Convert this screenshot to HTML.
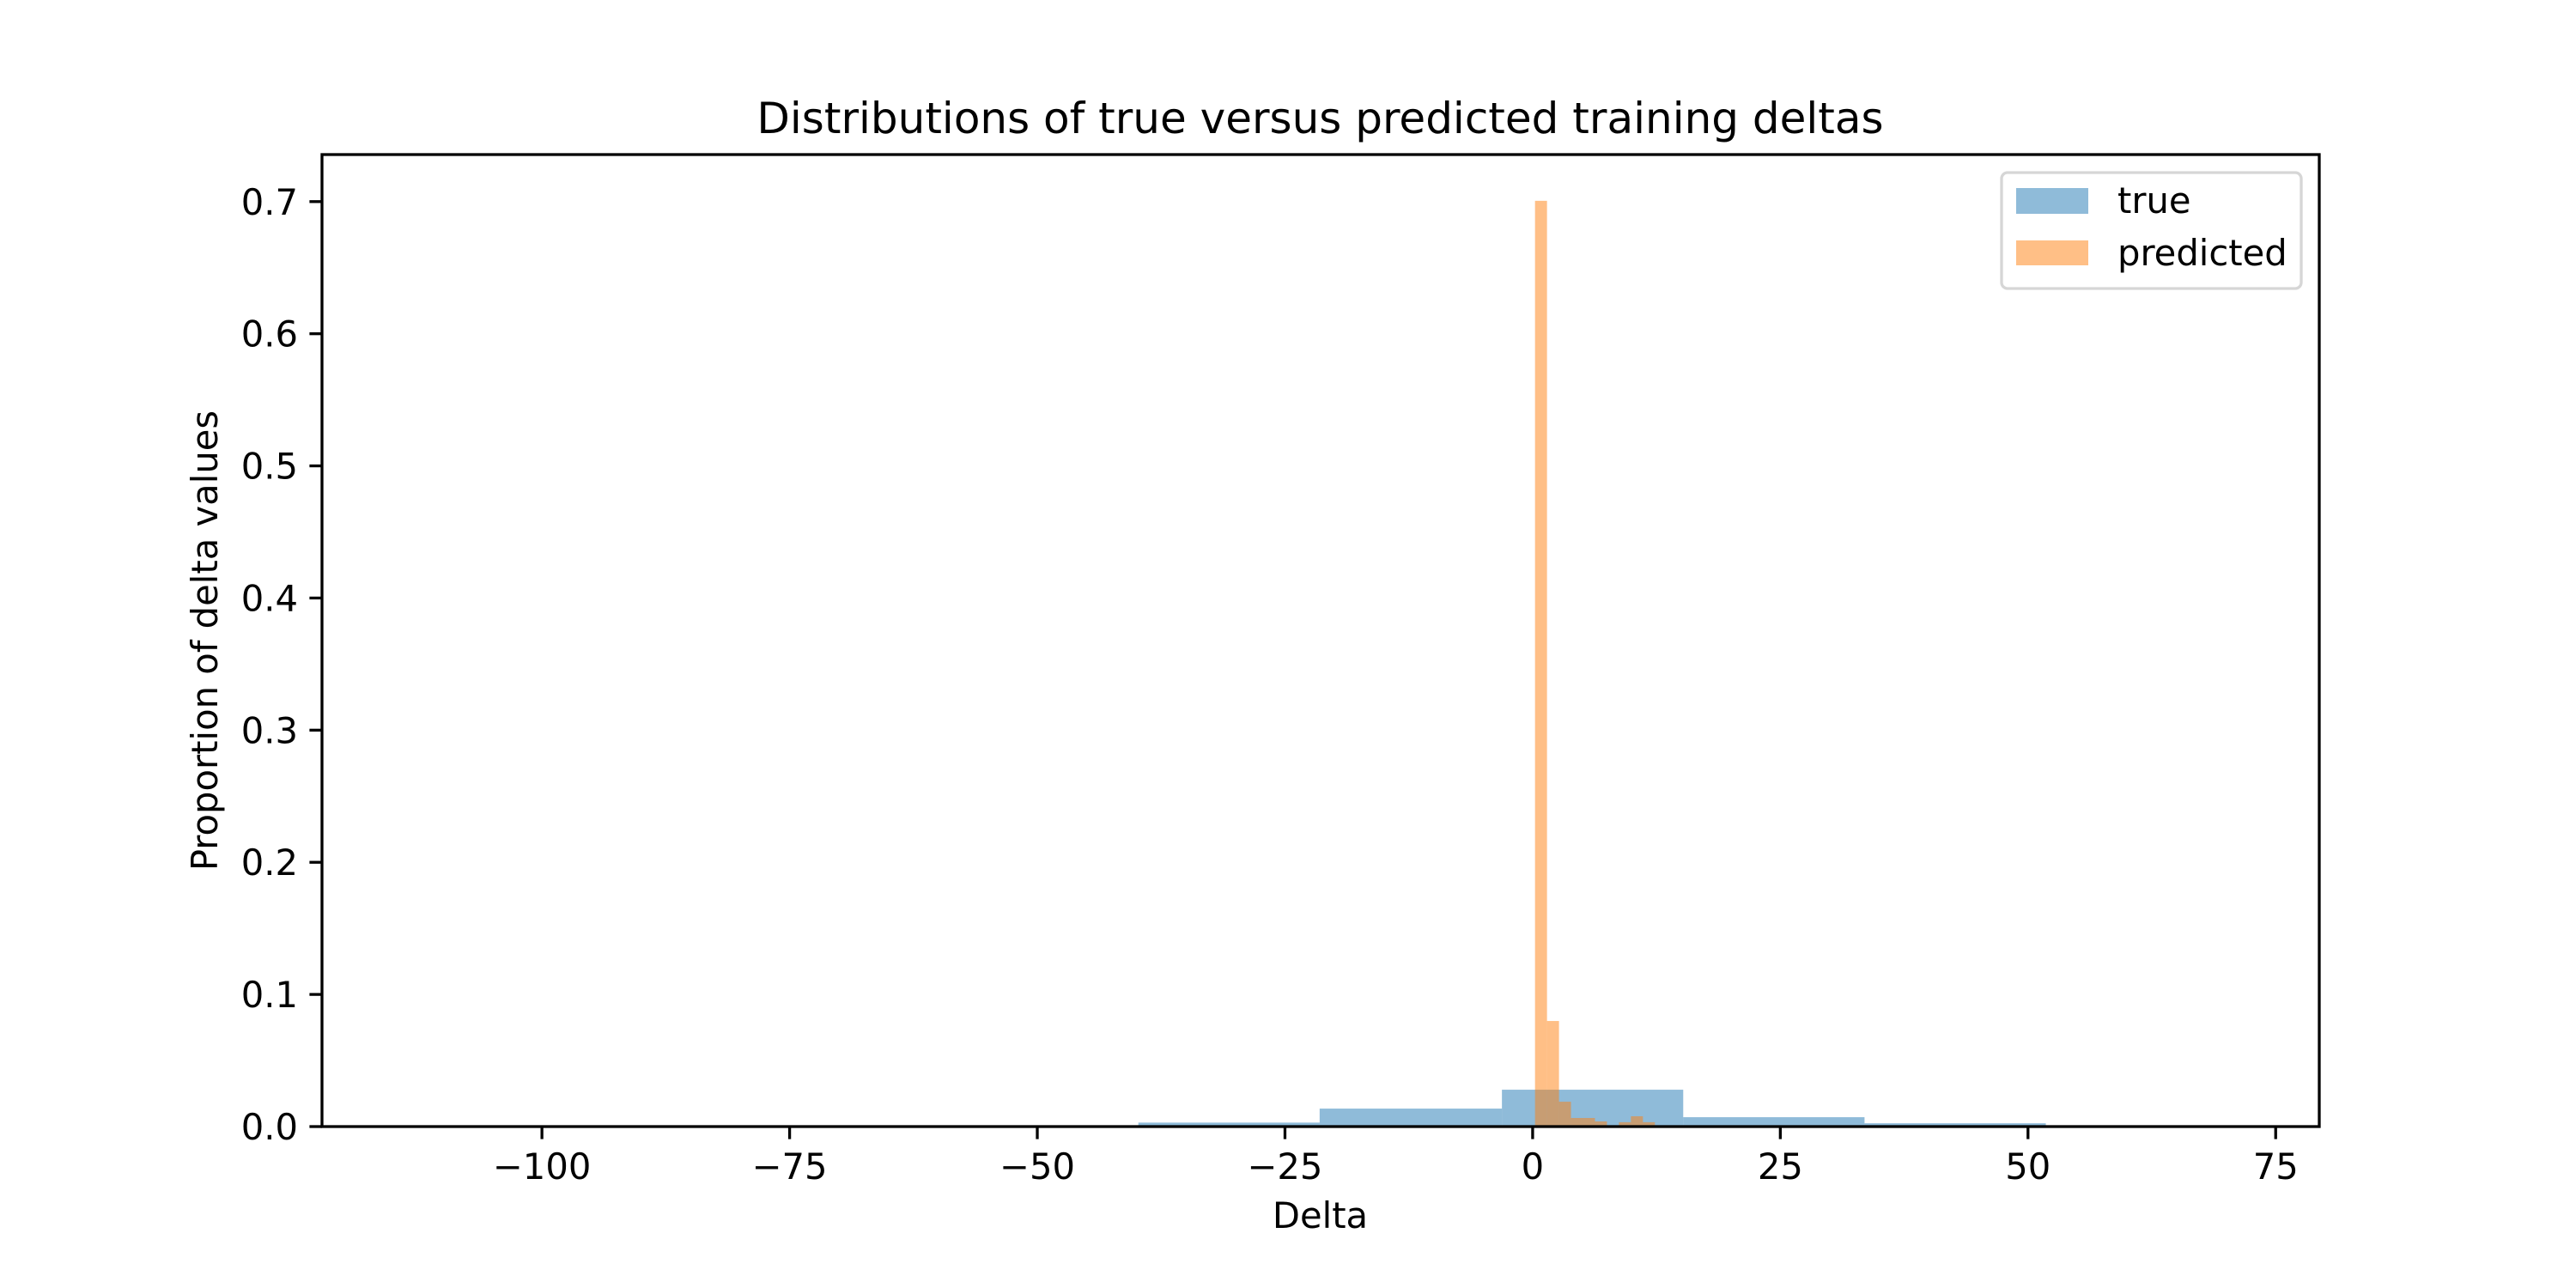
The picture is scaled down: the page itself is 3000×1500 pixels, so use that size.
<!DOCTYPE html>
<html><head><meta charset="utf-8"><style>
html,body{margin:0;padding:0;background:#fff;}
svg{display:block;font-family:"DejaVu Sans","Liberation Sans",sans-serif;}
</style></head><body>
<svg id="chart" width="3000" height="1500" viewBox="0 0 3000 1500">
<rect width="3000" height="1500" fill="#fff"/>
<text x="1537.5" y="155" font-size="50" text-anchor="middle">Distributions of true versus predicted training deltas</text>
<g id="bars"></g>
<g id="axes"></g>
<text x="1537.5" y="1430" font-size="41.7" text-anchor="middle">Delta</text>
<text transform="translate(253,746) rotate(-90)" font-size="41.7" text-anchor="middle">Proportion of delta values</text>
<g>
<rect x="2331" y="201" width="349" height="135" rx="7" fill="#fff" fill-opacity="0.8" stroke="#d6d6d6" stroke-width="3.3"/>
<rect x="2348" y="219" width="84" height="30" fill="#1f77b4" fill-opacity="0.5"/>
<text x="2466" y="248" font-size="41.7">true</text>
<rect x="2348" y="280" width="84" height="29" fill="#ff7f0e" fill-opacity="0.5"/>
<text x="2466" y="309" font-size="41.7">predicted</text>
</g>
</svg>
<script>
const trueEdges = [-39.8, -21.5, -3.1, 15.2, 33.5, 51.8];
const trueValues = [0.003, 0.0136, 0.0279, 0.0071, 0.0025];
const predEdges = [0.24, 1.45, 2.66, 3.87, 5.08, 6.29, 7.5, 8.71, 9.92, 11.13, 12.34];
const predValues = [0.7006, 0.0799, 0.0188, 0.0065, 0.0065, 0.0039, 0.0, 0.0033, 0.0078, 0.0033];
const xTicks = [-100, -75, -50, -25, 0, 25, 50, 75];
const yTicks = [0.0, 0.1, 0.2, 0.3, 0.4, 0.5, 0.6, 0.7];

const L=375, R=2701, T=180, B=1312;
const xMin=-122.2, xMax=79.4, yMin=0, yMax=0.7356;
function xs(v){return L+(v-xMin)/(xMax-xMin)*(R-L);}
function ys(v){return B-(v-yMin)/(yMax-yMin)*(B-T);}
const NS="http://www.w3.org/2000/svg";
const bars=document.getElementById('bars');
const axes=document.getElementById('axes');
function mk(tag,attrs,parent){const e=document.createElementNS(NS,tag);for(const k in attrs)e.setAttribute(k,attrs[k]);parent.appendChild(e);return e;}

for(let i=0;i<trueValues.length;i++){
  const x0=xs(trueEdges[i]), x1=xs(trueEdges[i+1]), y=ys(trueValues[i]);
  const r=mk('rect',{x:x0,y:y,width:x1-x0,height:B-y,fill:'#1f77b4','fill-opacity':0.5},bars);
  
  
}
for(let i=0;i<predValues.length;i++){
  const x0=xs(predEdges[i]), x1=xs(predEdges[i+1]), y=ys(predValues[i]);
  const r=mk('rect',{x:x0,y:y,width:x1-x0,height:B-y,fill:'#ff7f0e','fill-opacity':0.5},bars);
  
  
}
const frame=mk('rect',{x:L,y:T,width:R-L,height:B-T,fill:'none',stroke:'#000','stroke-width':3.3},axes);


xTicks.forEach(v=>{
  const x=xs(v);
  const t=mk('line',{x1:x,x2:x,y1:B,y2:B+14.6,stroke:'#000','stroke-width':3.3},axes);
  
  
  const lb=mk('text',{x:x,y:1373,'font-size':41.7,'text-anchor':'middle'},axes);
  lb.textContent=v<0?'\u2212'+Math.abs(v):String(v);
  
  
});
yTicks.forEach(v=>{
  const y=ys(v);
  const t=mk('line',{x1:L-14.6,x2:L,y1:y,y2:y,stroke:'#000','stroke-width':3.3},axes);
  
  
  const lb=mk('text',{x:347,y:y+15,'font-size':41.7,'text-anchor':'end'},axes);
  lb.textContent=v.toFixed(1);
  
  
});
</script>
</body></html>
